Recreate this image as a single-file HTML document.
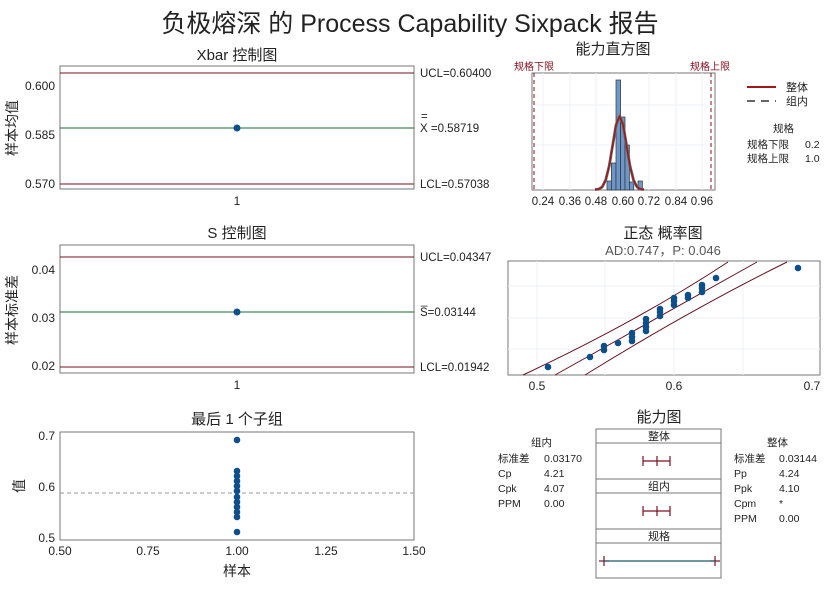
<!DOCTYPE html>
<html><head><meta charset="utf-8"><style>
body{margin:0;background:#fff}
svg text{font-family:"Liberation Sans","Noto Sans CJK SC",sans-serif;fill:#222}
</style></head><body>
<svg width="827" height="592" viewBox="0 0 827 592" xmlns="http://www.w3.org/2000/svg">
<text x="410" y="32" font-size="25" text-anchor="middle">负极熔深 的 Process Capability Sixpack 报告</text>

<!-- Xbar -->
<text x="237" y="60" font-size="15" text-anchor="middle">Xbar 控制图</text>
<rect x="60" y="66" width="354" height="123" fill="none" stroke="#777"/>
<line x1="60" y1="73" x2="414" y2="73" stroke="#7a1020"/>
<line x1="60" y1="128" x2="414" y2="128" stroke="#1a6b30"/>
<line x1="60" y1="184" x2="414" y2="184" stroke="#7a1020"/>
<circle cx="237" cy="128" r="3.5" fill="#0d4f8b"/>
<g font-size="12" text-anchor="end"><text x="55" y="90">0.600</text><text x="55" y="139">0.585</text><text x="55" y="188">0.570</text></g>
<text x="237" y="205" font-size="12" text-anchor="middle">1</text>
<text transform="translate(17,128) rotate(-90)" font-size="14" text-anchor="middle">样本均值</text>
<g font-size="11.5"><text x="420" y="77">UCL=0.60400</text><text x="421" y="120">=</text><text x="420" y="132">X =0.58719</text><text x="420" y="188">LCL=0.57038</text></g>

<!-- S chart -->
<text x="237" y="238" font-size="15" text-anchor="middle">S 控制图</text>
<rect x="60" y="245" width="354" height="128" fill="none" stroke="#777"/>
<line x1="60" y1="257" x2="414" y2="257" stroke="#7a1020"/>
<line x1="60" y1="312" x2="414" y2="312" stroke="#1a6b30"/>
<line x1="60" y1="367" x2="414" y2="367" stroke="#7a1020"/>
<circle cx="237" cy="312" r="3.5" fill="#0d4f8b"/>
<g font-size="12" text-anchor="end"><text x="55" y="274">0.04</text><text x="55" y="322">0.03</text><text x="55" y="370">0.02</text></g>
<text x="237" y="389" font-size="12" text-anchor="middle">1</text>
<text transform="translate(17,310) rotate(-90)" font-size="14" text-anchor="middle">样本标准差</text>
<g font-size="11.5"><text x="420" y="261">UCL=0.04347</text><text x="421" y="304">_</text><text x="420" y="316">S=0.03144</text><text x="420" y="371">LCL=0.01942</text></g>

<!-- Last subgroup -->
<text x="237" y="424" font-size="15" text-anchor="middle">最后 1 个子组</text>
<rect x="60" y="432" width="354" height="108" fill="none" stroke="#777"/>
<line x1="60" y1="493" x2="414" y2="493" stroke="#999" stroke-dasharray="4,3"/>
<g fill="#0d4f8b">
<circle cx="237" cy="440" r="3.3"/><circle cx="237" cy="471" r="3.3"/><circle cx="237" cy="476" r="3.3"/><circle cx="237" cy="481" r="3.3"/><circle cx="237" cy="486" r="3.3"/><circle cx="237" cy="491" r="3.3"/><circle cx="237" cy="497" r="3.3"/><circle cx="237" cy="502" r="3.3"/><circle cx="237" cy="507" r="3.3"/><circle cx="237" cy="512" r="3.3"/><circle cx="237" cy="517" r="3.3"/><circle cx="237" cy="532" r="3.3"/>
</g>
<g font-size="12" text-anchor="end"><text x="55" y="440">0.7</text><text x="55" y="491">0.6</text><text x="55" y="542">0.5</text></g>
<g font-size="12" text-anchor="middle"><text x="60" y="555">0.50</text><text x="148" y="555">0.75</text><text x="237" y="555">1.00</text><text x="326" y="555">1.25</text><text x="414" y="555">1.50</text></g>
<text x="237" y="576" font-size="14" text-anchor="middle">样本</text>
<text transform="translate(24,486) rotate(-90)" font-size="14" text-anchor="middle">值</text>

<!-- Histogram -->
<text x="613" y="54" font-size="15" text-anchor="middle">能力直方图</text>
<text x="514" y="70" font-size="10" style="fill:#8a1020">规格下限</text>
<text x="690" y="70" font-size="10" style="fill:#8a1020">规格上限</text>
<rect x="532" y="73" width="183" height="117" fill="none" stroke="#777"/>
<g stroke="#eef0f4"><line x1="543" y1="73" x2="543" y2="190"/><line x1="570" y1="73" x2="570" y2="190"/><line x1="596" y1="73" x2="596" y2="190"/><line x1="649" y1="73" x2="649" y2="190"/><line x1="676" y1="73" x2="676" y2="190"/><line x1="702" y1="73" x2="702" y2="190"/><line x1="532" y1="105" x2="715" y2="105"/><line x1="532" y1="145" x2="715" y2="145"/></g>
<g fill="#6e97c9" stroke="#333" stroke-width="0.7">
<rect x="607" y="181" width="4.4" height="9"/><rect x="611.4" y="163" width="4.6" height="27"/><rect x="616" y="80" width="4.6" height="110"/><rect x="620.6" y="117" width="4.4" height="73"/><rect x="625" y="145" width="4.4" height="45"/><rect x="629.4" y="182" width="4.4" height="8"/><rect x="638" y="181" width="4.4" height="9"/>
</g>
<polyline points="595,189.5 598.8,189.2 602.3,186.8 605.7,180 609.2,166 612.7,145 616.1,124.7 619.6,116 623.1,124.7 626.5,145 630,166 633.5,180 636.9,186.8 640.4,189.2 644,189.5" fill="none" stroke="#666" stroke-width="2.8" stroke-linejoin="round"/>
<polyline points="595,189.5 598.8,189.2 602.3,186.8 605.7,180 609.2,166 612.7,145 616.1,124.7 619.6,116 623.1,124.7 626.5,145 630,166 633.5,180 636.9,186.8 640.4,189.2 644,189.5" fill="none" stroke="#a01818" stroke-width="1.4" stroke-linejoin="round"/>
<line x1="534" y1="73" x2="534" y2="190" stroke="#8a1020" stroke-dasharray="4,3"/>
<line x1="711" y1="73" x2="711" y2="190" stroke="#8a1020" stroke-dasharray="4,3"/>
<g font-size="11.5" text-anchor="middle"><text x="543" y="205">0.24</text><text x="570" y="205">0.36</text><text x="596" y="205">0.48</text><text x="623" y="205">0.60</text><text x="649" y="205">0.72</text><text x="676" y="205">0.84</text><text x="702" y="205">0.96</text></g>
<line x1="747" y1="87" x2="776" y2="87" stroke="#a01818" stroke-width="2"/><text x="786" y="91" font-size="11">整体</text>
<line x1="747" y1="101" x2="776" y2="101" stroke="#666" stroke-width="2" stroke-dasharray="8,6"/><text x="786" y="105" font-size="11">组内</text>
<g font-size="10.5"><text x="773" y="132">规格</text><text x="747" y="148">规格下限</text><text x="805" y="148">0.2</text><text x="747" y="162">规格上限</text><text x="805" y="162">1.0</text></g>

<!-- Probability -->
<text x="663" y="238" font-size="15" text-anchor="middle">正态 概率图</text>
<text x="663" y="255" font-size="13" text-anchor="middle" style="fill:#555">AD:0.747，P: 0.046</text>
<rect x="508" y="261" width="312" height="114" fill="none" stroke="#777"/>
<g stroke="#eef0f4"><line x1="537" y1="261" x2="537" y2="375"/><line x1="605" y1="261" x2="605" y2="375"/><line x1="674" y1="261" x2="674" y2="375"/><line x1="743" y1="261" x2="743" y2="375"/><line x1="508" y1="286" x2="820" y2="286"/><line x1="508" y1="318" x2="820" y2="318"/><line x1="508" y1="349" x2="820" y2="349"/></g>
<g fill="none" stroke="#6a1020" stroke-width="1">
<line x1="555" y1="375" x2="757" y2="262"/>
<path d="M523,375 Q640,320 728,262"/>
<path d="M585,375 Q690,310 787,262"/>
</g>
<g fill="#0d4f8b">
<circle cx="548" cy="367" r="3.3"/><circle cx="590" cy="357" r="3.3"/><circle cx="604" cy="350" r="3.3"/><circle cx="604" cy="346" r="3.3"/><circle cx="618" cy="343" r="3.3"/><circle cx="632" cy="341" r="3.3"/><circle cx="632" cy="337" r="3.3"/><circle cx="632" cy="333" r="3.3"/><circle cx="646" cy="331" r="3.3"/><circle cx="646" cy="327" r="3.3"/><circle cx="646" cy="323" r="3.3"/><circle cx="646" cy="319" r="3.3"/><circle cx="660" cy="316" r="3.3"/><circle cx="660" cy="312" r="3.3"/><circle cx="660" cy="309" r="3.3"/><circle cx="674" cy="305" r="3.3"/><circle cx="674" cy="301" r="3.3"/><circle cx="674" cy="298" r="3.3"/><circle cx="688" cy="298" r="3.3"/><circle cx="688" cy="295" r="3.3"/><circle cx="702" cy="292" r="3.3"/><circle cx="702" cy="288" r="3.3"/><circle cx="702" cy="285" r="3.3"/><circle cx="716" cy="278" r="3.3"/><circle cx="798" cy="268" r="3.3"/>
</g>
<g font-size="12" text-anchor="middle"><text x="537" y="390">0.5</text><text x="674" y="390">0.6</text><text x="812" y="390">0.7</text></g>

<!-- Capability plot -->
<text x="659" y="422" font-size="15" text-anchor="middle">能力图</text>
<rect x="596" y="429" width="125" height="149" fill="none" stroke="#777"/>
<g stroke="#777"><line x1="596" y1="443" x2="721" y2="443"/><line x1="596" y1="479" x2="721" y2="479"/><line x1="596" y1="493" x2="721" y2="493"/><line x1="596" y1="529" x2="721" y2="529"/><line x1="596" y1="543" x2="721" y2="543"/></g>
<g font-size="11" text-anchor="middle"><text x="659" y="440">整体</text><text x="659" y="490">组内</text><text x="659" y="540">规格</text></g>
<g stroke="#7a1020" stroke-width="1.2">
<line x1="643" y1="461" x2="670" y2="461"/><line x1="643" y1="456" x2="643" y2="466"/><line x1="657" y1="456" x2="657" y2="466"/><line x1="670" y1="456" x2="670" y2="466"/>
<line x1="643" y1="511" x2="670" y2="511"/><line x1="643" y1="506" x2="643" y2="516"/><line x1="657" y1="506" x2="657" y2="516"/><line x1="670" y1="506" x2="670" y2="516"/>
<line x1="604" y1="556" x2="604" y2="566"/><line x1="715" y1="556" x2="715" y2="566"/><line x1="599" y1="561" x2="609" y2="561"/><line x1="710" y1="561" x2="720" y2="561"/>
</g>
<line x1="604" y1="561" x2="715" y2="561" stroke="#1a5a6b" stroke-width="1.2"/>
<g font-size="10.5">
<text x="531" y="446">组内</text>
<text x="498" y="462">标准差</text><text x="544" y="462">0.03170</text>
<text x="498" y="477">Cp</text><text x="544" y="477">4.21</text>
<text x="498" y="492">Cpk</text><text x="544" y="492">4.07</text>
<text x="498" y="507">PPM</text><text x="544" y="507">0.00</text>
<text x="767" y="446">整体</text>
<text x="734" y="462">标准差</text><text x="779" y="462">0.03144</text>
<text x="734" y="477">Pp</text><text x="779" y="477">4.24</text>
<text x="734" y="492">Ppk</text><text x="779" y="492">4.10</text>
<text x="734" y="507">Cpm</text><text x="779" y="507">*</text>
<text x="734" y="522">PPM</text><text x="779" y="522">0.00</text>
</g>
</svg>
</body></html>
